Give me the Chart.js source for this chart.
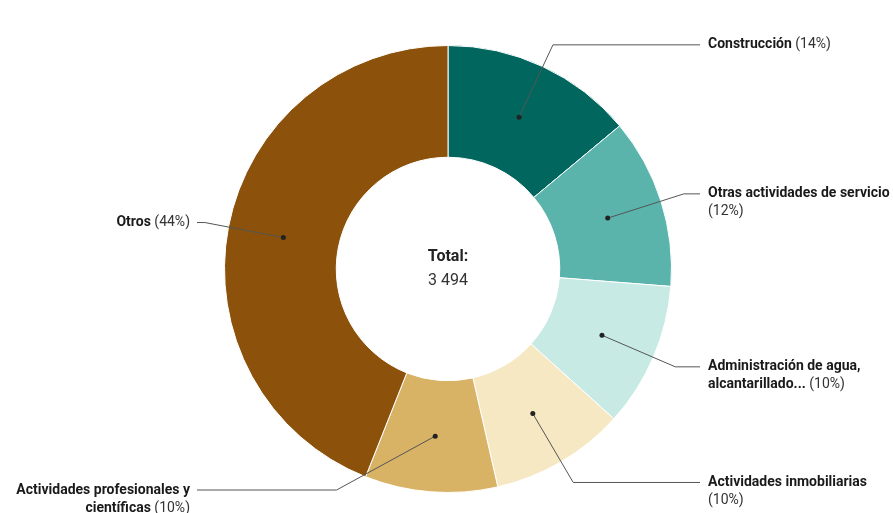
<!DOCTYPE html>
<html>
<head>
<meta charset="utf-8">
<script src="https://cdn.jsdelivr.net/npm/chart.js@4"></script>
<style>
  body { margin: 0; background: #fff; }
  #Canvas { display: block; }
</style>
</head>
<body>
<canvas id="Canvas" width="893" height="513"></canvas>
<script>
// Datos del grafico
let categorias = ["Construcción", "Otras actividades de servicio", "Administración de agua, alcantarillado...", "Actividades inmobiliarias", "Actividades profesionales y científicas", "Otros"];
let valores = [487, 430, 365, 340, 335, 1537];
let colores = ["#01665e", "#5ab4ac", "#c7eae5", "#f6e8c3", "#d8b365", "#8c510a"];
// como se parte cada etiqueta en lineas (el % va al final de la ultima)
let lineasEtiqueta = [
  ["Construcción"],
  ["Otras actividades de servicio", ""],
  ["Administración de agua,", "alcantarillado..."],
  ["Actividades inmobiliarias", ""],
  ["Actividades profesionales y", "científicas"],
  ["Otros"]
];

let total = valores.reduce((s, v) => s + v, 0);

function formatoMiles(n) {
  return String(n).replace(/\B(?=(\d{3})+(?!\d))/g, " ");
}

// Texto del centro
let textoCentro = {
  id: "textoCentro",
  afterDatasetsDraw(chart) {
    let arc = chart.getDatasetMeta(0).data[0];
    let ctx = chart.ctx;
    ctx.save();
    ctx.textAlign = "center";
    ctx.textBaseline = "middle";
    ctx.fillStyle = "#222";
    ctx.font = "bold 16px Roboto";
    ctx.fillText("Total:", arc.x, arc.y - 12);
    ctx.font = "16px Roboto";
    ctx.fillStyle = "#333";
    ctx.fillText(formatoMiles(total), arc.x, arc.y + 12);
    ctx.restore();
  }
};

// Etiquetas con lineas guia
let etiquetas = {
  id: "etiquetas",
  afterDatasetsDraw(chart) {
    let ctx = chart.ctx;
    let arcos = chart.getDatasetMeta(0).data;
    let yMax = chart.height - 23;

    arcos.forEach((arc, i) => {
      let medio = (arc.startAngle + arc.endAngle) / 2;
      let rPunto = (arc.innerRadius + arc.outerRadius) / 2;
      let rCodo = arc.outerRadius + 24;
      let px = arc.x + Math.cos(medio) * rPunto;
      let py = arc.y + Math.sin(medio) * rPunto;
      let derecha = Math.cos(medio) >= 0;

      let cy = arc.y + Math.sin(medio) * rCodo;
      let cx = arc.x + Math.cos(medio) * rCodo;
      if (cy > yMax) {
        cy = yMax;
        let dx = Math.sqrt(rCodo * rCodo - (cy - arc.y) * (cy - arc.y));
        cx = derecha ? arc.x + dx : arc.x - dx;
      }
      let finLinea = derecha ? arc.x + 252 : arc.x - 251;
      let xTexto = derecha ? arc.x + 260 : arc.x - 258;

      ctx.save();
      ctx.strokeStyle = "#555";
      ctx.lineWidth = 1;
      ctx.beginPath();
      ctx.moveTo(px, py);
      ctx.lineTo(cx, cy);
      ctx.lineTo(finLinea, cy);
      ctx.stroke();

      ctx.fillStyle = "#222";
      ctx.beginPath();
      ctx.arc(px, py, 2.5, 0, Math.PI * 2);
      ctx.fill();

      let pct = "(" + Math.round(valores[i] / total * 100) + "%)";
      let lineas = lineasEtiqueta[i];
      ctx.textBaseline = "middle";
      ctx.textAlign = "left";
      lineas.forEach((texto, j) => {
        let y = cy + j * 18;
        let extra = "";
        if (j == lineas.length - 1) extra = texto ? " " + pct : pct;
        ctx.font = "bold 14px Roboto";
        let w1 = ctx.measureText(texto).width;
        ctx.font = "14px Roboto";
        let w2 = ctx.measureText(extra).width;
        let x0 = derecha ? xTexto : xTexto - w1 - w2;
        ctx.font = "bold 14px Roboto";
        ctx.fillStyle = "#1a1a1a";
        ctx.fillText(texto, x0, y);
        ctx.font = "14px Roboto";
        ctx.fillStyle = "#333";
        ctx.fillText(extra, x0 + w1, y);
      });
      ctx.restore();
    });
  }
};

function criarGrafico() {
  let ctx = document.getElementById("Canvas").getContext("2d");

  new Chart(ctx, {
    type: "doughnut",
    data: {
      labels: categorias,
      datasets: [{
        data: valores,
        backgroundColor: colores,
        borderColor: "#ffffff",
        borderWidth: 1
      }]
    },
    options: {
      responsive: false,
      animation: false,
      cutout: "50%",
      layout: {
        padding: { top: 45, bottom: 20, left: 3, right: 0 }
      },
      plugins: {
        legend: { display: false },
        tooltip: { enabled: false }
      }
    },
    plugins: [textoCentro, etiquetas]
  });
}

criarGrafico();
</script>
</body>
</html>
